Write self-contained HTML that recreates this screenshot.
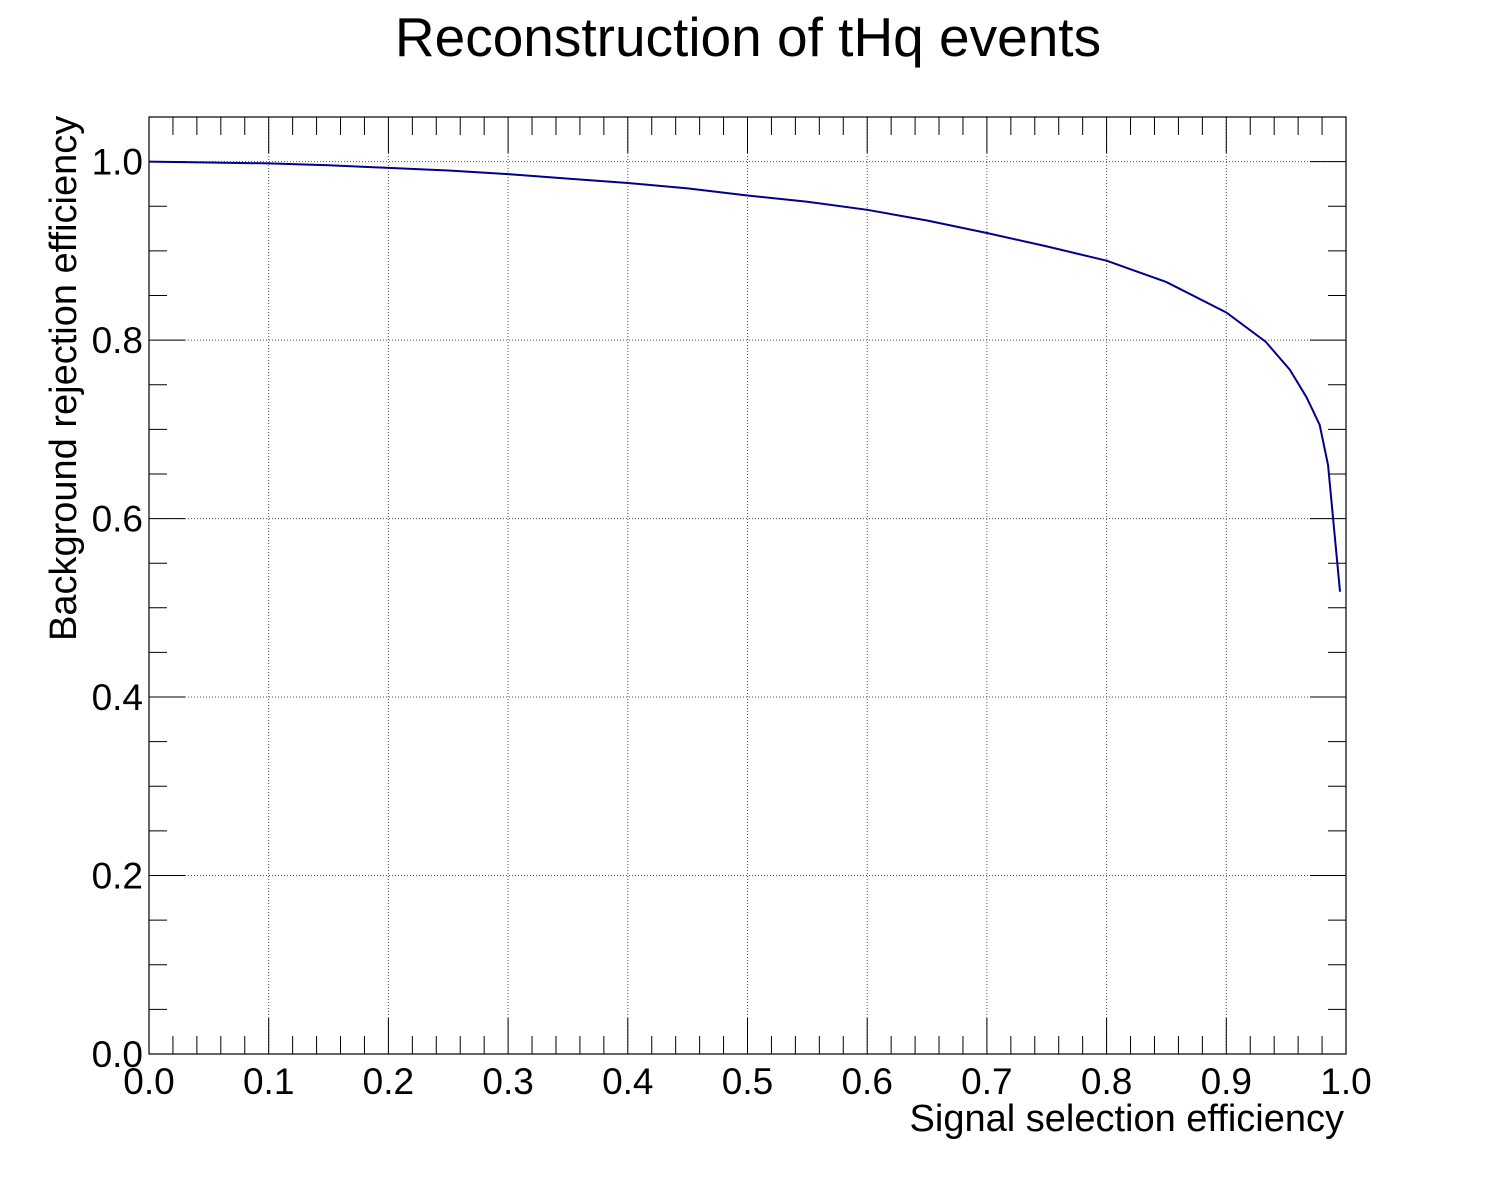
<!DOCTYPE html>
<html><head><meta charset="utf-8"><style>
body{margin:0;background:#fff}
svg text{font-family:"Liberation Sans",sans-serif;fill:#000}
</style></head><body>
<svg id="c" width="1496" height="1172">
<text x="748" y="56" font-size="55" text-anchor="middle">Reconstruction of tHq events</text>
<g id="grid"></g><g id="ticks"></g><g id="labels"></g>
<rect x="149" y="117" width="1197" height="937" fill="none" stroke="#000" stroke-width="1.2"/>
<polyline id="curve" fill="none" stroke="#00008b" stroke-width="2"/>
<text x="1344" y="1131" font-size="38" text-anchor="end">Signal selection efficiency</text>
<text transform="translate(76,641) rotate(-90)" font-size="38">Background rejection efficiency</text>
</svg>
<script>
const sigEff=[0,0.05,0.1,0.15,0.2,0.25,0.3,0.35,0.4,0.45,0.5,0.55,0.6,0.65,0.7,0.75,0.8,0.85,0.9,0.933,0.953,0.967,0.978,0.985,0.995];
const bkgRej=[1.0,0.999,0.998,0.996,0.993,0.99,0.986,0.981,0.976,0.97,0.962,0.955,0.946,0.934,0.92,0.905,0.889,0.865,0.831,0.798,0.767,0.736,0.705,0.66,0.518];
const xTicks=["0.0","0.1","0.2","0.3","0.4","0.5","0.6","0.7","0.8","0.9","1.0"];
const yTicks=["0.0","0.2","0.4","0.6","0.8","1.0"];
const X0=149,X1=1346,Y0=1054,Y1=117,YMAX=1.05;
const sx=v=>X0+v*(X1-X0), sy=v=>Y0-v/YMAX*(Y0-Y1);
const NS="http://www.w3.org/2000/svg";
function mk(tag,attrs,parent){const e=document.createElementNS(NS,tag);for(const k in attrs)e.setAttribute(k,attrs[k]);document.getElementById(parent).appendChild(e);return e;}
for(let i=0;i<=50;i++){const v=i/50,x=sx(v),len=i%5===0?36:18;
 mk('line',{x1:x,x2:x,y1:Y0,y2:Y0-len,stroke:'#000'},'ticks');
 mk('line',{x1:x,x2:x,y1:Y1,y2:Y1+len,stroke:'#000'},'ticks');}
xTicks.forEach((t,i)=>{const v=parseFloat(t),x=sx(v);
 if(i>0&&i<xTicks.length-1){const g=mk('line',{x1:x,x2:x,y1:Y0,y2:Y1,stroke:'#555','stroke-dasharray':'1,2'},'grid');}
 const tx=mk('text',{x:x,y:1094,'font-size':37,'text-anchor':'middle'},'labels');tx.textContent=t;
 
 });
for(let i=0;i<=21;i++){const v=i*0.05,y=sy(v),len=i%4===0?36:18;
 mk('line',{x1:X0,x2:X0+len,y1:y,y2:y,stroke:'#000'},'ticks');
 mk('line',{x1:X1,x2:X1-len,y1:y,y2:y,stroke:'#000'},'ticks');}
yTicks.forEach((t,i)=>{const v=parseFloat(t),y=sy(v);
 if(i>0){const g=mk('line',{x1:X0,x2:X1,y1:y,y2:y,stroke:'#555','stroke-dasharray':'1,2'},'grid');}
 const tx=mk('text',{x:143,y:y+13,'font-size':37,'text-anchor':'end'},'labels');tx.textContent=t;
 
 });
document.getElementById('curve').setAttribute('points',sigEff.map((s,i)=>sx(s)+','+sy(bkgRej[i])).join(' '));
</script>
</body></html>
